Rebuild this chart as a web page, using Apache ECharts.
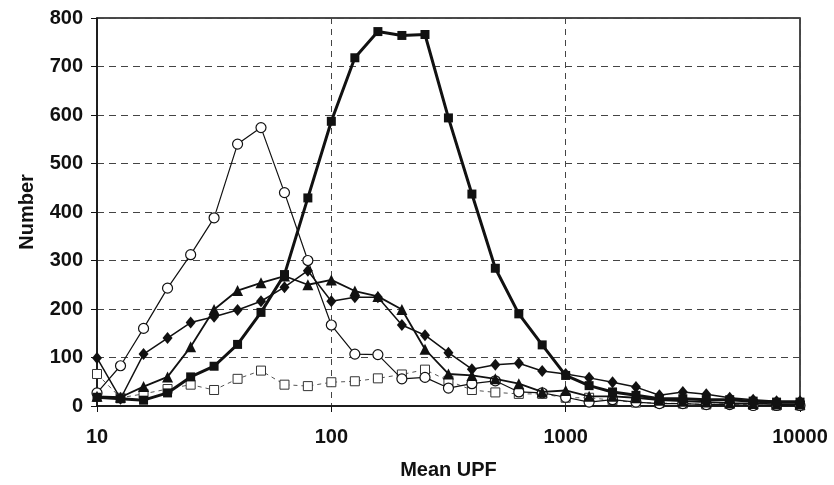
<!DOCTYPE html>
<html>
<head>
<meta charset="utf-8">
<script src="https://cdn.jsdelivr.net/npm/echarts@6/dist/echarts.min.js"></script>
<style>
  html, body { margin: 0; padding: 0; background: #fff; }
  #chart { width: 834px; height: 485px; }
</style>
</head>
<body>
<div id="chart"></div>
<script>
// Mean UPF values (x positions, log scale, 10 per decade)
var upfValues = [10, 12.6, 15.8, 20, 25.1, 31.6, 39.8, 50.1, 63.1, 79.4,
  100, 126, 158, 200, 251, 316, 398, 501, 631, 794,
  1000, 1259, 1585, 1995, 2512, 3162, 3981, 5012, 6310, 7943, 10000];

var filledSquares = [18, 15, 12, 27, 60, 82, 127, 193, 271, 429, 587, 718, 772, 764, 766, 594, 437, 284, 190, 126, 63, 42, 29, 22, 15, 15, 13, 13, 10, 8, 8];
var openCircles = [27, 83, 160, 243, 312, 388, 540, 574, 440, 300, 167, 107, 106, 56, 59, 37, 46, 52, 29, 27, 18, 8, 13, 8, 5, 5, 3, 3, 1, 1, 1];
var triangles = [20, 18, 40, 60, 122, 199, 238, 254, 268, 250, 260, 237, 226, 199, 117, 66, 63, 56, 46, 29, 32, 20, 20, 17, 12, 10, 8, 6, 5, 4, 4];
var diamonds = [99, 15, 107, 140, 172, 184, 198, 216, 245, 279, 216, 224, 224, 167, 146, 110, 76, 85, 88, 72, 66, 58, 49, 39, 22, 29, 24, 17, 13, 10, 10];
var openSquares = [66, 17, 25, 35, 44, 33, 56, 73, 44, 41, 49, 51, 57, 65, 75, 52, 33, 28, 25, 25, 17, 17, 12, 7, 6, 5, 3, 5, 2, 1, 1];

function pairs(values) {
  var out = [];
  for (var i = 0; i < upfValues.length; i++) {
    out.push([upfValues[i], values[i]]);
  }
  return out;
}

var labelFont = {
  color: '#111',
  fontFamily: 'Liberation Sans',
  fontWeight: 'bold',
  fontSize: 20
};

var myChart = echarts.init(document.getElementById('chart'));
var option = {
  animation: false,
  backgroundColor: '#fff',
  grid: {
    left: 97,
    right: 34,
    top: 18,
    bottom: 76,
    show: true,
    borderColor: '#111',
    borderWidth: 1.5
  },
  xAxis: {
    type: 'log',
    logBase: 10,
    min: 10,
    max: 10000,
    name: 'Mean UPF',
    nameLocation: 'middle',
    nameGap: 54,
    nameTextStyle: labelFont,
    axisLine: { lineStyle: { color: '#111', width: 1.5 } },
    axisTick: { show: true, length: 6, lineStyle: { color: '#111' } },
    axisLabel: Object.assign({
      margin: 21,
      formatter: function (v) { return String(v); }
    }, labelFont),
    splitLine: {
      show: true,
      lineStyle: { type: [6, 5], color: '#444', width: 1 }
    },
    minorTick: { show: false }
  },
  yAxis: {
    type: 'value',
    min: 0,
    max: 800,
    interval: 100,
    name: 'Number',
    nameLocation: 'middle',
    nameGap: 60,
    nameTextStyle: labelFont,
    axisLine: { show: true, lineStyle: { color: '#111', width: 1.5 } },
    axisTick: { show: true, length: 6, lineStyle: { color: '#111' } },
    axisLabel: Object.assign({ margin: 14 }, labelFont),
    splitLine: {
      show: true,
      lineStyle: { type: [7, 5], color: '#444', width: 1 }
    }
  },
  series: [
    {
      type: 'line',
      data: pairs(openSquares),
      symbol: 'rect',
      symbolSize: 9,
      itemStyle: { color: '#fff', borderColor: '#333', borderWidth: 1 },
      lineStyle: { color: '#555', width: 1, type: [4, 4] },
      z: 2
    },
    {
      type: 'line',
      data: pairs(openCircles),
      symbol: 'circle',
      symbolSize: 10,
      itemStyle: { color: '#fff', borderColor: '#111', borderWidth: 1.2 },
      lineStyle: { color: '#111', width: 1.2 },
      z: 3
    },
    {
      type: 'line',
      data: pairs(diamonds),
      symbol: 'diamond',
      symbolSize: [10, 12],
      itemStyle: { color: '#111' },
      lineStyle: { color: '#111', width: 1.5 },
      z: 4
    },
    {
      type: 'line',
      data: pairs(triangles),
      symbol: 'triangle',
      symbolSize: 11,
      itemStyle: { color: '#111' },
      lineStyle: { color: '#111', width: 1.8 },
      z: 5
    },
    {
      type: 'line',
      data: pairs(filledSquares),
      symbol: 'rect',
      symbolSize: 9,
      itemStyle: { color: '#111' },
      lineStyle: { color: '#111', width: 3 },
      z: 6
    }
  ]
};
option && myChart.setOption(option);
</script>
</body>
</html>
